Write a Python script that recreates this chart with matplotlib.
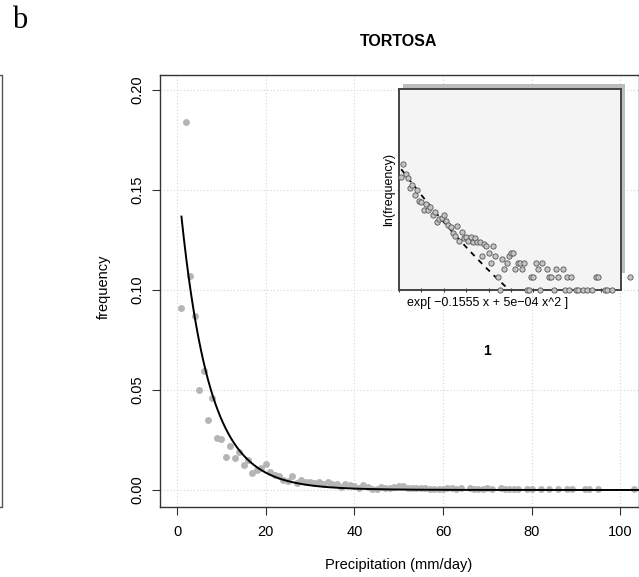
import numpy as np
import matplotlib.pyplot as plt
from matplotlib.patches import Rectangle
from matplotlib.lines import Line2D

plt.rcParams['font.family'] = ['Liberation Sans', 'DejaVu Sans']

# daily precipitation (mm/day) and number of days observed (zero-count values left out)
precip = [1, 2, 3, 4, 5, 6, 7, 8, 9, 10,
          11, 12, 13, 14, 15, 16, 17, 18, 19, 20,
          21, 22, 23, 24, 25, 26, 27, 28, 29, 30,
          31, 32, 33, 34, 35, 36, 37, 38, 39, 40,
          41, 42, 43, 44, 45, 46, 47, 48, 49, 50,
          51, 52, 53, 54, 55, 56, 57, 58, 59, 60,
          61, 62, 63, 64, 66, 67, 68, 69, 70, 71,
          73, 74, 75, 76, 77, 79, 80, 82, 84, 86,
          88, 89, 92, 93, 95, 103]
counts = [359, 727, 423, 344, 198, 236, 139, 181, 102, 100,
          65, 86, 64, 75, 49, 59, 34, 40, 43, 51,
          36, 29, 27, 19, 17, 28, 13, 20, 15, 16,
          13, 16, 12, 15, 12, 12, 6, 11, 10, 7,
          4, 10, 6, 2, 1, 5, 3, 4, 6, 7,
          7, 3, 4, 4, 3, 4, 1, 1, 2, 2,
          4, 3, 1, 4, 3, 2, 2, 1, 3, 2,
          3, 1, 2, 1, 2, 1, 1, 1, 1, 1,
          2, 2, 1, 1, 1, 2]
n_days = 3950

# fitted model: frequency = exp[c - 0.1555 x + 5e-04 x^2]
fit_c = -1.835
fit_b = -0.1555
fit_a = 5e-4

x_ticks = [0, 20, 40, 60, 80, 100]
y_ticks = [0.00, 0.05, 0.10, 0.15, 0.20]
y_labels = ['0.00', '0.05', '0.10', '0.15', '0.20']

W, H = 639, 577


def fx(px):
    return px / W


def fy(py):
    return 1 - py / H


precip = np.array(precip)
freq = np.array(counts) / n_days

fig = plt.figure(figsize=(W / 100, H / 100), dpi=100)

# main panel
ax = fig.add_axes([fx(160), fy(507), 478.5 / W, 432 / H])
ax.set_xlim(-3.84, 104.1)
ax.set_ylim(-0.0085, 0.2075)
ax.set_xticks(x_ticks)
ax.set_yticks(y_ticks)
ax.set_yticklabels(y_labels)
ax.grid(True, color='#d4d4d4', linestyle=(0, (1, 2)), linewidth=0.8)
ax.set_axisbelow(True)
for s in ax.spines.values():
    s.set_color('#333333')
    s.set_linewidth(1.0)
ax.tick_params(length=6, width=0.8, color='#333333', labelsize=10.5)
ax.tick_params(axis='x', pad=7)
ax.tick_params(axis='y', labelrotation=90, pad=5)
for lab in ax.get_yticklabels():
    lab.set_va('center')

ax.plot(precip, freq, 'o', ms=5, color='#b5b5b5', mec='none', zorder=2)
xf = np.linspace(1, 110, 400)
ax.plot(xf, np.exp(fit_c + fit_b * xf + fit_a * xf ** 2), color='black', lw=1.4, zorder=3)

fig.text(fx(399), fy(42), 'TORTOSA', ha='center', va='center', fontsize=11.5,
         fontweight='bold')
fig.text(fx(399), fy(565), 'Precipitation (mm/day)', ha='center', va='center', fontsize=10.5)
fig.text(fx(104), fy(287), 'frequency', ha='center', va='center', rotation=90, fontsize=10.5)

# shadow behind the inset
fig.add_artist(Rectangle((fx(403), fy(273)), 222 / W, 189 / H, transform=fig.transFigure,
                         facecolor='#bdbdbd', edgecolor='none', zorder=0.5))

# inset: ln(frequency) against precipitation
axi = fig.add_axes([fx(399), fy(290), 222 / W, 201 / H], zorder=1)
axi.set_facecolor('#f4f4f4')
axi.set_xlim(0, 99.1)
lo = np.log(1 / n_days)
axi.set_ylim(lo, lo + 10.47)
axi.set_xticks(range(0, 100, 10))
axi.set_yticks([])
axi.tick_params(axis='x', length=2.5, width=0.8, direction='inout', labelbottom=False,
                color='#333333')
for s in axi.spines.values():
    s.set_color('#444444')
    s.set_linewidth(1.4)
axi.plot(precip, np.log(freq), 'o', ms=3.8, mfc='#c4c4c4', mec='#555555', mew=0.6,
         clip_on=False, zorder=3)
xd = np.linspace(1, 60, 200)
axi.plot(xd, fit_c + fit_b * xd + fit_a * xd ** 2, color='black', lw=1.3,
         linestyle=(0, (3, 3)), zorder=2)

fig.text(fx(389), fy(190), 'ln(frequency)', ha='center', va='center', rotation=90, fontsize=9)
fig.text(fx(488), fy(303), 'exp[ \u22120.1555 x + 5e\u221204 x^2 ]', ha='center', va='center',
         fontsize=9)
fig.text(fx(487), fy(351), '1', ha='center', va='center', fontsize=10, fontweight='bold')

# panel letter and edge of the neighbouring panel
fig.text(fx(12), fy(21), 'b', ha='left', va='center', fontsize=22,
         family=['Liberation Serif', 'DejaVu Serif'])
fig.add_artist(Line2D([fx(0), fx(2), fx(2), fx(0)], [fy(75), fy(75), fy(507), fy(507)],
                      transform=fig.transFigure, color='#555555', lw=1.0))

fig.savefig('out.png', dpi=100)
